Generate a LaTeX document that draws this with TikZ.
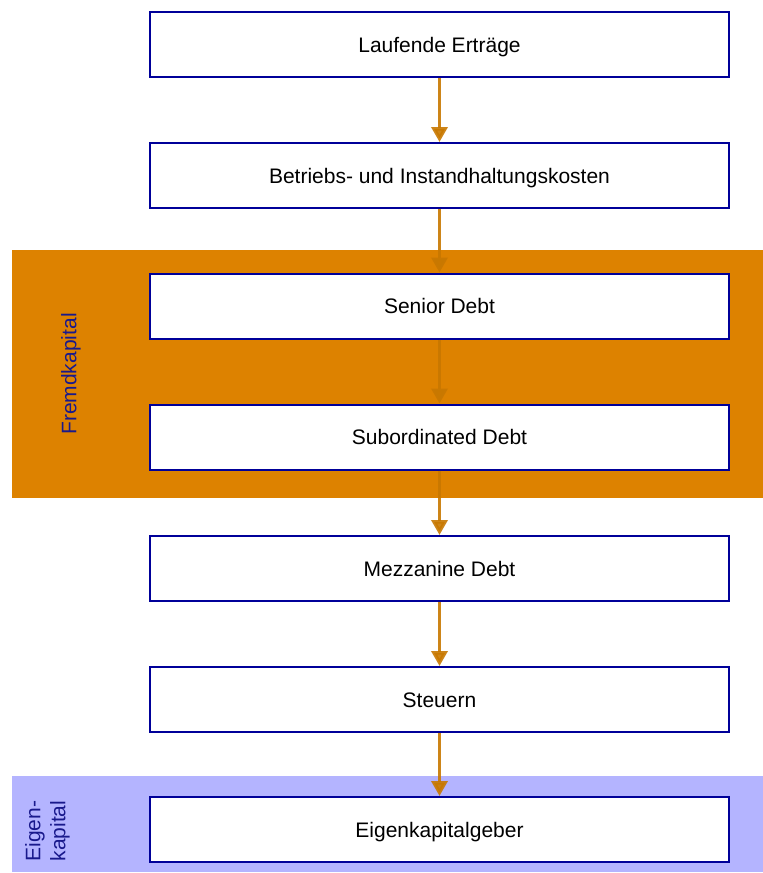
\documentclass[tikz,border=0pt]{standalone}
\usepackage{fontspec}
\setmainfont{Liberation Sans}
\usetikzlibrary{arrows.meta}
\definecolor{boxline}{RGB}{0,0,153}
\definecolor{bandorange}{RGB}{221,130,0}
\definecolor{bandblue}{RGB}{180,180,255}
\definecolor{flowc}{RGB}{200,120,0}
\definecolor{labelc}{RGB}{25,25,140}
\tikzset{
  stage/.style={draw=boxline, line width=2pt, fill=white, minimum width=579pt,
    minimum height=65pt, inner sep=0pt, text height=15pt, text depth=0pt,
    font=\fontsize{21}{25}\selectfont},
  flow/.style={-{Triangle[width=16pt,length=15pt]}, line width=3.5pt,
    draw=flowc, fill=flowc, opacity=0.9},
  bandlabel/.style={rotate=90, text=labelc, inner sep=0pt, align=left,
    font=\fontsize{21}{25}\selectfont}
}
\begin{document}
\begin{tikzpicture}[x=1pt,y=-1pt]
\useasboundingbox (0,0) rectangle (763,873);
% background bands for debt and equity
\fill[bandorange] (12,250) rectangle (763,498);
\fill[bandblue] (12,776) rectangle (763,872);
\node[bandlabel] (fk) at (71,374) {Fremdkapital};
\node[bandlabel] (ek) at (47.5,831) {Eigen-\\kapital};
% cash flow waterfall
\node[stage] (b1) at (439.5,44.5) {Laufende Erträge};
\node[stage] (b2) at (439.5,175.5) {Betriebs- und Instandhaltungskosten};
\node[stage] (b3) at (439.5,306) {Senior Debt};
\node[stage] (b4) at (439.5,437) {Subordinated Debt};
\node[stage] (b5) at (439.5,568.5) {Mezzanine Debt};
\node[stage] (b6) at (439.5,699.5) {Steuern};
\node[stage] (b7) at (439.5,829.5) {Eigenkapitalgeber};
\foreach \a/\b in {b1/b2,b2/b3,b3/b4,b4/b5,b5/b6,b6/b7}
  \draw[flow] (\a.south) -- (\b.north);
\end{tikzpicture}
\end{document}
